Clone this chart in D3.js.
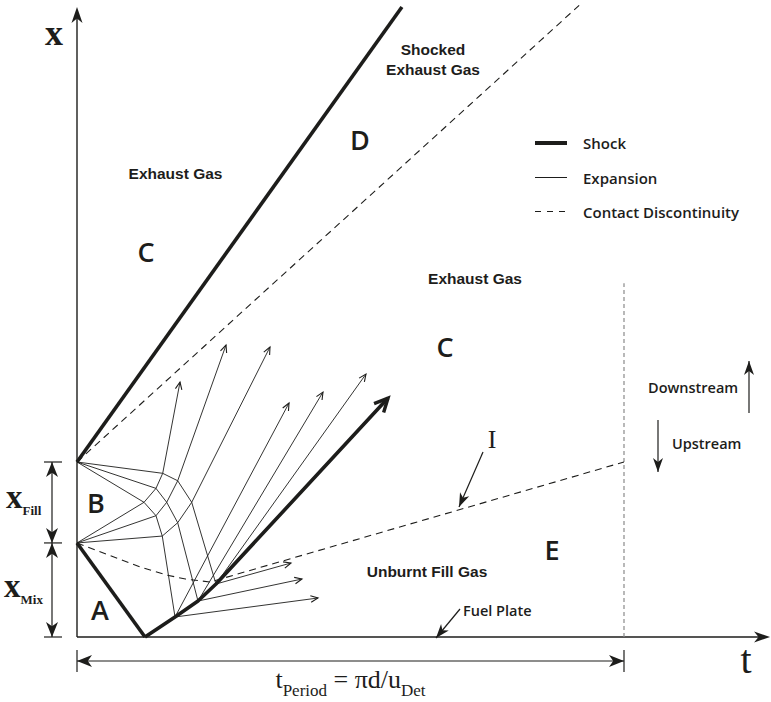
<!DOCTYPE html>
<html>
<head>
<meta charset="utf-8">
<script src="https://cdn.jsdelivr.net/npm/d3@7"></script>
<style>
  html, body { margin: 0; padding: 0; background: #fff; }
  svg { display: block; }
</style>
</head>
<body>
<svg id="chart" width="771" height="702"></svg>
<script>
// Nondimensional t–x wave diagram of a rotating detonation cycle.
// Heights of the mixing and fill layers, and the cycle period.
const mixHeight = 1.72;
const fillTop = 3.2;           // mix + fill layer
const tPeriod = 10;
const tAxisEnd = 12.67;
const xAxisEnd = 11.52;
const periodLineTop = 6.47;

// Shock and contact lines, as [t, x] points
const detonationFront = [[0, mixHeight], [1.243, 0]];
const reflectedShock = [[1.243, 0], [1.792, 0.366], [2.212, 0.658], [2.541, 0.969], [5.686, 4.369]];
const obliqueShock = [[0, fillTop], [5.94, 11.52]];
const slipLine = [[0, fillTop], [9.18, 11.55]];
const fillInterface = [[0, mixHeight], [1.152, 1.28], [1.65, 1.13], [1.983, 1.06], [2.431, 1.005], [tPeriod, fillTop]];

// Expansion-fan nodes and the characteristics joining them
const fanNodes = {
  pf: [0, fillTop], pm: [0, mixHeight],
  a1: [1.567, 2.993], a2: [1.444, 2.718], a3: [1.225, 2.463],
  b2: [1.444, 2.218], b3: [1.559, 1.846],
  c1: [1.841, 2.857], c2: [1.640, 2.463], c3: [1.841, 2.090],
  d: [2.097, 2.463],
  s1: [1.792, 0.366], s2: [2.212, 0.658], s3: [2.541, 0.969]
};
const fanLinks = [
  ["pf", "a1"], ["pf", "a2"], ["pf", "a3"],
  ["pm", "a3"], ["pm", "b2"], ["pm", "b3"],
  ["a1", "a2"], ["a2", "a3"], ["a3", "b2"], ["b2", "b3"],
  ["a2", "c2"], ["b2", "c2"], ["c2", "c1"], ["c2", "c3"],
  ["a1", "c1"], ["b3", "c3"], ["c1", "d"], ["c3", "d"],
  ["b3", "s1"], ["c3", "s2"], ["d", "s3"]
];
// Transmitted waves leaving the fan (start node, end point)
const fanArrows = [
  ["a1", [1.883, 4.662]], ["c1", [2.724, 5.338]], ["d", [3.528, 5.302]],
  ["s1", [3.876, 4.278]], ["s2", [4.497, 4.479]], ["s3", [5.283, 4.808]],
  ["s1", [4.406, 0.713]], ["s2", [4.113, 1.060]], ["s3", [3.912, 1.353]]
];

const ink = "#1d1d1b";
const svg = d3.select("#chart");
svg.append("rect").attr("width", 771).attr("height", 702).attr("fill", "#fff");

const tS = d3.scaleLinear().domain([0, tPeriod]).range([77, 624]);
const xS = d3.scaleLinear().domain([0, fillTop]).range([637, 462]);
const P = p => [tS(p[0]), xS(p[1])];
const line = d3.line().x(d => tS(d[0])).y(d => xS(d[1]));

// Arrowhead helpers (direction taken from the segment end)
function chevron(g, from, tip, len, half, width) {
  const a = Math.atan2(tip[1] - from[1], tip[0] - from[0]);
  const l = [tip[0] - len * Math.cos(a - half), tip[1] - len * Math.sin(a - half)];
  const r = [tip[0] - len * Math.cos(a + half), tip[1] - len * Math.sin(a + half)];
  g.append("path").attr("d", `M${l}L${tip}L${r}`)
    .attr("fill", "none").attr("stroke", ink).attr("stroke-width", width)
    .attr("stroke-linejoin", "miter").attr("stroke-linecap", "butt");
}
function solidHead(g, from, tip, len, w) {
  const a = Math.atan2(tip[1] - from[1], tip[0] - from[0]);
  const c = Math.cos(a), s = Math.sin(a);
  const base = [tip[0] - len * c, tip[1] - len * s];
  const notch = [tip[0] - len * 0.72 * c, tip[1] - len * 0.72 * s];
  const l = [base[0] - w / 2 * s, base[1] + w / 2 * c];
  const r = [base[0] + w / 2 * s, base[1] - w / 2 * c];
  g.append("path").attr("d", `M${tip}L${l}L${notch}L${r}Z`).attr("fill", ink);
}

const g = svg.append("g");

// Axes
g.append("line").attr("x1", tS(0)).attr("y1", xS(0)).attr("x2", tS(tAxisEnd) - 6).attr("y2", xS(0))
  .attr("stroke", ink).attr("stroke-width", 1.4);
solidHead(g, [tS(0), xS(0)], [tS(tAxisEnd), xS(0)], 16, 11);
g.append("line").attr("x1", tS(0)).attr("y1", xS(0)).attr("x2", tS(0)).attr("y2", xS(xAxisEnd) + 6)
  .attr("stroke", ink).attr("stroke-width", 1.4);
solidHead(g, [tS(0), xS(0)], [tS(0), xS(xAxisEnd)], 16, 11);

// End of one period
g.append("line").attr("x1", tS(tPeriod)).attr("x2", tS(tPeriod))
  .attr("y1", xS(0)).attr("y2", xS(periodLineTop))
  .attr("stroke", "#8a8a8a").attr("stroke-width", 1.2).attr("stroke-dasharray", "4,3");

// Expansion characteristics
fanLinks.forEach(([a, b]) => {
  g.append("line")
    .attr("x1", tS(fanNodes[a][0])).attr("y1", xS(fanNodes[a][1]))
    .attr("x2", tS(fanNodes[b][0])).attr("y2", xS(fanNodes[b][1]))
    .attr("stroke", ink).attr("stroke-width", 0.9);
});
fanArrows.forEach(([a, end]) => {
  const p0 = P(fanNodes[a]), p1 = P(end);
  g.append("line").attr("x1", p0[0]).attr("y1", p0[1]).attr("x2", p1[0]).attr("y2", p1[1])
    .attr("stroke", ink).attr("stroke-width", 0.9);
  chevron(g, p0, p1, 8, 0.42, 1.1);
});

// Contact discontinuities
[slipLine, fillInterface].forEach(s => {
  g.append("path").attr("d", line(s)).attr("fill", "none")
    .attr("stroke", ink).attr("stroke-width", 1.1).attr("stroke-dasharray", "7,5")
    .attr("stroke-linejoin", "round");
});

// Shocks
[detonationFront, obliqueShock].forEach(s => {
  g.append("path").attr("d", line(s)).attr("fill", "none")
    .attr("stroke", ink).attr("stroke-width", 3.6).attr("stroke-linejoin", "round");
});
{
  const pts = reflectedShock.map(P);
  const n = pts.length;
  g.append("path").attr("d", line(reflectedShock)).attr("fill", "none")
    .attr("stroke", ink).attr("stroke-width", 3.6).attr("stroke-linejoin", "round");
  chevron(g, pts[n - 2], pts[n - 1], 15, 0.45, 3.4);
}

// Left dimension markers: x_Mix and x_Fill
const dimX = 52;
[0, mixHeight, fillTop].forEach(v => {
  g.append("line").attr("x1", 44).attr("x2", 62).attr("y1", xS(v)).attr("y2", xS(v))
    .attr("stroke", ink).attr("stroke-width", 1.2);
});
g.append("line").attr("x1", dimX).attr("x2", dimX).attr("y1", xS(0)).attr("y2", xS(fillTop))
  .attr("stroke", ink).attr("stroke-width", 1.2);
[[mixHeight, fillTop], [fillTop, mixHeight], [0, mixHeight], [mixHeight, 0]].forEach(([from, to]) => {
  solidHead(g, [dimX, xS(from)], [dimX, xS(to)], 15, 12);
});

// Bottom period marker
const perY = 661;
g.append("line").attr("x1", tS(0)).attr("x2", tS(tPeriod)).attr("y1", perY).attr("y2", perY)
  .attr("stroke", ink).attr("stroke-width", 1.2);
[0, tPeriod].forEach(v => {
  g.append("line").attr("x1", tS(v)).attr("x2", tS(v)).attr("y1", 650).attr("y2", 672)
    .attr("stroke", ink).attr("stroke-width", 1.2);
});
solidHead(g, [tS(tPeriod), perY], [tS(0), perY], 15, 12);
solidHead(g, [tS(0), perY], [tS(tPeriod), perY], 15, 12);

// Pointer arrows
function pointer(from, tip) {
  g.append("line").attr("x1", from[0]).attr("y1", from[1]).attr("x2", tip[0]).attr("y2", tip[1])
    .attr("stroke", ink).attr("stroke-width", 1.2);
  solidHead(g, from, tip, 14, 10);
}
pointer([483, 452], [459, 507]);          // interface I
pointer([460, 609], [436, 638]);          // fuel plate
pointer([749, 413], [749, 361]);          // downstream
pointer([658, 420], [658, 472]);          // upstream

// Legend
const legendX = 535, legendW = 32;
const legend = [
  { label: "Shock", w: 4, dash: null, y: 143 },
  { label: "Expansion", w: 1, dash: null, y: 177.5 },
  { label: "Contact Discontinuity", w: 1.1, dash: "6,6", y: 211.5 }
];
legend.forEach(d => {
  g.append("line").attr("x1", legendX).attr("x2", legendX + legendW).attr("y1", d.y).attr("y2", d.y)
    .attr("stroke", ink).attr("stroke-width", d.w).attr("stroke-dasharray", d.dash);
  g.append("text").attr("x", 583).attr("y", d.y + 6).text(d.label)
    .attr("font-family", "'Open Sans', sans-serif").attr("font-weight", 600)
    .attr("font-size", 15).attr("fill", ink);
});

// Text helpers
function sansText(txt, x, y, opts = {}) {
  return g.append("text").attr("x", x).attr("y", y).text(txt)
    .attr("font-family", opts.family || "'Liberation Sans', Arial, sans-serif")
    .attr("font-weight", opts.weight || 700)
    .attr("font-size", opts.size || 15.5)
    .attr("text-anchor", opts.anchor || "middle")
    .attr("fill", ink);
}

sansText("Shocked", 433, 55);
sansText("Exhaust Gas", 433, 75);
sansText("Exhaust Gas", 175.5, 179);
sansText("Exhaust Gas", 475, 284);
sansText("Unburnt Fill Gas", 427, 577);

const myriad = { family: "'Open Sans', sans-serif", weight: 600, size: 14.5, anchor: "start" };
sansText("Fuel Plate", 463, 616, myriad);
sansText("Downstream", 648, 393, myriad);
sansText("Upstream", 672, 449, myriad);

// Region letters
const region = { family: "'Open Sans', sans-serif", weight: 600, size: 27 };
sansText("D", 360, 150, region);
sansText("C", 146, 262, region);
sansText("C", 445, 357, region);
sansText("B", 96, 513, region);
sansText("A", 100, 620, region);
sansText("E", 552, 560, region);

// Serif labels
const serif = "'Liberation Serif', 'Times New Roman', serif";
g.append("text").attr("x", 54).attr("y", 45).attr("text-anchor", "middle")
  .attr("font-family", serif).attr("font-weight", 700).attr("font-size", 36).attr("fill", ink).text("x");
g.append("text").attr("x", 746).attr("y", 673).attr("text-anchor", "middle")
  .attr("font-family", serif).attr("font-size", 40).attr("fill", ink).text("t");
g.append("text").attr("x", 492).attr("y", 448).attr("text-anchor", "middle")
  .attr("font-family", serif).attr("font-size", 26).attr("fill", ink).text("I");

function subLabel(x, y, main, sub) {
  const t = g.append("text").attr("x", x).attr("y", y)
    .attr("font-family", serif).attr("font-weight", 700).attr("fill", ink);
  t.append("tspan").attr("font-size", 33).text(main);
  t.append("tspan").attr("font-size", 13).attr("dy", 7).text(sub);
}
subLabel(6, 508, "x", "Fill");
subLabel(4, 597, "x", "Mix");

// Period label
{
  const t = g.append("text").attr("x", tS(tPeriod / 2)).attr("y", 688).attr("text-anchor", "middle")
    .attr("font-family", serif).attr("fill", ink).attr("font-size", 26);
  t.append("tspan").text("t");
  t.append("tspan").attr("font-size", 17).attr("dy", 8).text("Period");
  t.append("tspan").attr("dy", -8).text(" = πd/u");
  t.append("tspan").attr("font-size", 17).attr("dy", 8).text("Det");
}
</script>
</body>
</html>
